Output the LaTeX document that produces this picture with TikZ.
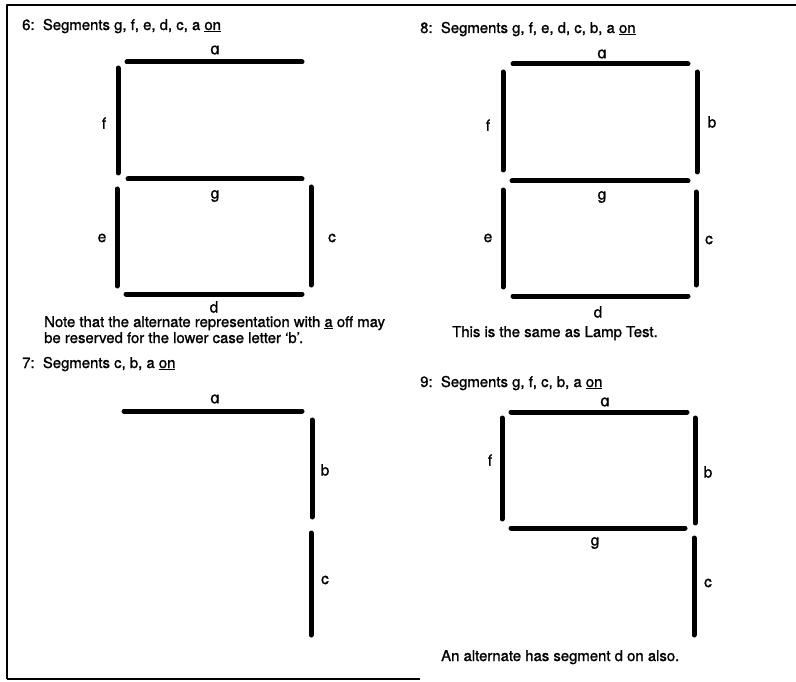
\documentclass[tikz,border=0pt]{standalone}
\usepackage{fontspec}
\setmainfont{TeX Gyre Heros}[FakeBold=1.3]
\newfontfamily\alphfont{DejaVu Sans}[Scale=1.0, FakeBold=1.3]
\usetikzlibrary{positioning}
\tikzset{
  every picture/.style={line cap=round, line join=round},
  every node/.style={font=\fontsize{14.9}{17}\selectfont, inner sep=0pt},
  % Segmente
  seg/.style={line width=5pt},
  frame/.style={line width=2.4pt, line cap=butt},
  % Texte
  head/.style={anchor=base west},
  lbl/.style={anchor=center, font=\fontsize{15.5}{18}\selectfont},
}
\begin{document}
\begin{tikzpicture}[x=1pt,y=-1pt]
  \useasboundingbox (0,0) rectangle (796,682);
  % Rahmen
  \draw[frame] (7,679) -- (7,5) -- (796,5);
  \draw[frame, line width=1.6pt] (7,679) -- (420,679);

  % 6: g f e d c a
  \node[head] (t6) at (22,30) {6:\ \ Segments g, f, e, d, c, a \underline{on}};
  \draw[seg] (127,62) -- (302,62);
  \draw[seg] (118,68) -- (118,173);
  \draw[seg] (128,179) -- (302,179);
  \draw[seg] (117,189) -- (117,286);
  \draw[seg] (311,187) -- (311,285);
  \draw[seg] (126,294) -- (302,294);
  \node[lbl] (l6a) at (215,50) {\alphfont ɑ};
  \node[lbl] (l6f) at (104,123) {f};
  \node[lbl] (l6g) at (215,196) {g};
  \node[lbl] (l6e) at (102,238) {e};
  \node[lbl] (l6c) at (332,238) {c};
  \node[lbl] (l6d) at (214,307) {d};
  \node[head] (n6a) at (44,327) {Note that the alternate representation with \underline{a} off may};
  \node[head] (n6b) at (44,343) {be reserved for the lower case letter ‘b’.};

  % 8: alle Segmente
  \node[head] (t8) at (420,33) {8:\ \ Segments g, f, e, d, c, b, a \underline{on}};
  \draw[seg] (513,64) -- (688,64);
  \draw[seg] (503,72) -- (503,170);
  \draw[seg] (697,72) -- (697,172);
  \draw[seg] (512,181) -- (688,181);
  \draw[seg] (503,190) -- (503,287);
  \draw[seg] (696,192) -- (696,285);
  \draw[seg] (513,296) -- (688,296);
  \node[lbl] (l8a) at (602,54) {\alphfont ɑ};
  \node[lbl] (l8f) at (488,125) {f};
  \node[lbl] (l8b) at (712,122) {b};
  \node[lbl] (l8g) at (602,197) {g};
  \node[lbl] (l8e) at (488,238) {e};
  \node[lbl] (l8c) at (709,240) {c};
  \node[lbl] (l8d) at (598,312) {d};
  \node[head] (n8) at (452,337) {This is the same as Lamp Test.};

  % 7: c b a
  \node[head] (t7) at (22,368) {7:\ \ Segments c, b, a \underline{on}};
  \draw[seg] (124,411) -- (302,411);
  \draw[seg] (312,420) -- (312,517);
  \draw[seg] (311,533) -- (311,635);
  \node[lbl] (l7a) at (215,399) {\alphfont ɑ};
  \node[lbl] (l7b) at (325,470) {b};
  \node[lbl] (l7c) at (325,580) {c};

  % 9: g f c b a
  \node[head] (t9) at (420,387) {9:\ \ Segments g, f, c, b, a \underline{on}};
  \draw[seg] (511,412) -- (687,412);
  \draw[seg] (502,418) -- (502,519);
  \draw[seg] (695,418) -- (695,523);
  \draw[seg] (511,528) -- (685,528);
  \draw[seg] (694,538) -- (694,635);
  \node[lbl] (l9a) at (605,402) {\alphfont ɑ};
  \node[lbl] (l9f) at (490,460) {f};
  \node[lbl] (l9b) at (708,472) {b};
  \node[lbl] (l9g) at (595,543) {g};
  \node[lbl] (l9c) at (708,583) {c};
  \node[head] (n9) at (441,661) {An alternate has segment d on also.};
\end{tikzpicture}
\end{document}
